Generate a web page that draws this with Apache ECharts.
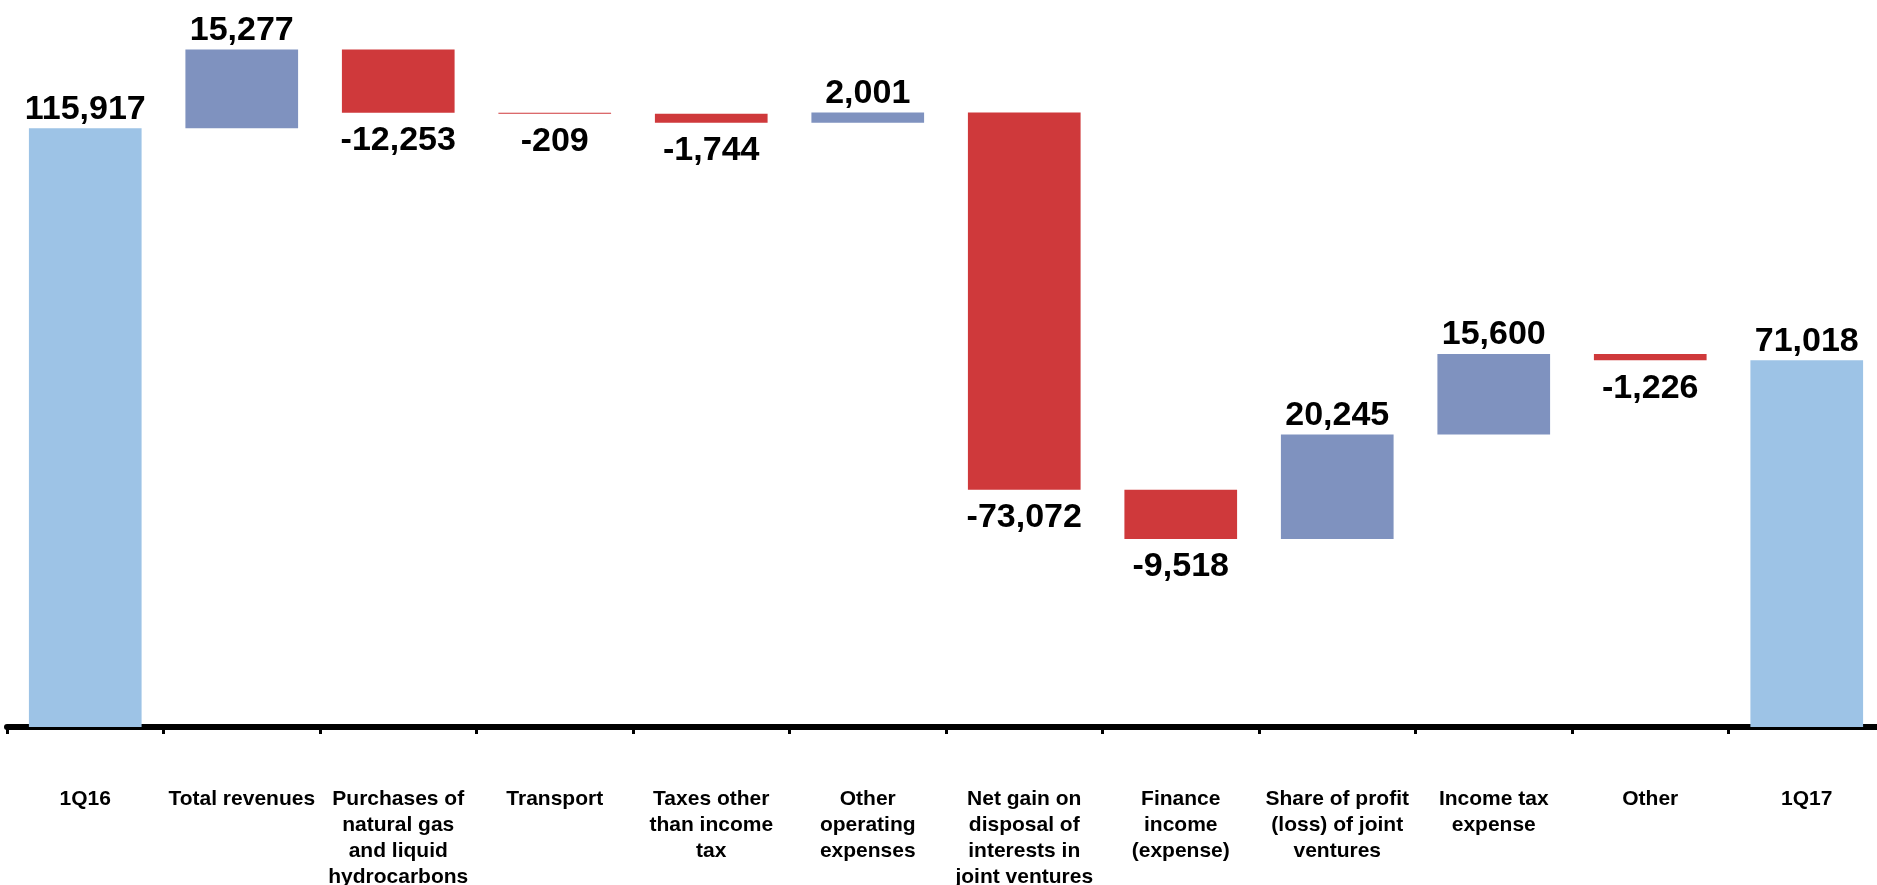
<!DOCTYPE html>
<html style="width:100%;height:100%">
<head>
    <meta charset="UTF-8">
    <title>Waterfall 1Q16 - 1Q17</title>
    <script type="text/javascript" src="https://cdn.jsdelivr.net/npm/echarts@6/dist/echarts.min.js"></script>
</head>
<body style="width:100%;height:100%;margin:0;overflow:hidden;background:#fff">
    <div id="chart" style="width:1877px;height:885px"></div>

    <script type="text/javascript">
        var categories = ['1Q16', 'Total revenues', 'Purchases of\nnatural gas\nand liquid\nhydrocarbons', 'Transport',
            'Taxes other\nthan income\ntax', 'Other\noperating\nexpenses', 'Net gain on\ndisposal of\ninterests in\njoint ventures',
            'Finance\nincome\n(expense)', 'Share of profit\n(loss) of joint\nventures', 'Income tax\nexpense', 'Other', '1Q17'];
        var openingTotal = 115917;
        var changes = [15277, -12253, -209, -1744, 2001, -73072, -9518, 20245, 15600, -1226];
        var closingTotal = 71018;

        function fmt(v) {
            var s = String(Math.abs(v)).replace(/\B(?=(\d{3})+(?!\d))/g, ',');
            return (v < 0 ? '-' : '') + s;
        }

        // build the invisible base + visible pieces
        var base = [0], totals = [openingTotal], ups = ['-'], downs = ['-'];
        var level = openingTotal;
        changes.forEach(function (c) {
            if (c >= 0) {
                base.push(level);
                ups.push(c);
                downs.push('-');
            } else {
                base.push(level + c);
                ups.push('-');
                downs.push(-c);
            }
            totals.push('-');
            level += c;
        });
        base.push(0);
        totals.push(closingTotal);
        ups.push('-');
        downs.push('-');

        var labelFont = {
            fontFamily: 'Liberation Sans, Arial, sans-serif',
            fontWeight: 'bold',
            fontSize: 34,
            color: '#000'
        };

        var myChart = echarts.init(document.getElementById('chart'));
        var option = {
            animation: false,
            grid: {
                left: 7,
                right: -8,
                top: 4,
                bottom: 158,
                outerBoundsMode: 'none'
            },
            xAxis: {
                type: 'category',
                data: categories,
                offset: 3,
                axisLine: { lineStyle: { color: '#000', width: 6 } },
                axisTick: { show: true, length: 7, interval: 0, lineStyle: { color: '#000', width: 3 } },
                axisLabel: {
                    interval: 0,
                    margin: 56,
                    color: '#000',
                    fontFamily: 'Liberation Sans, Arial, sans-serif',
                    fontWeight: 'bold',
                    fontSize: 21,
                    lineHeight: 26,
                    verticalAlign: 'top'
                }
            },
            yAxis: {
                type: 'value',
                min: 0,
                max: 140000,
                show: false,
                splitLine: { show: false }
            },
            series: [{
                type: 'bar',
                stack: 'wf',
                data: base,
                silent: true,
                barWidth: '72%',
                itemStyle: { color: 'transparent' }
            }, {
                type: 'bar',
                stack: 'wf',
                data: totals,
                itemStyle: { color: '#9DC3E6' },
                label: Object.assign({
                    show: true,
                    position: 'top',
                    distance: 2,
                    formatter: function (p) { return fmt(p.value); }
                }, labelFont)
            }, {
                type: 'bar',
                stack: 'wf',
                data: ups,
                itemStyle: { color: '#7F92BF' },
                label: Object.assign({
                    show: true,
                    position: 'top',
                    distance: 2,
                    formatter: function (p) { return fmt(p.value); }
                }, labelFont)
            }, {
                type: 'bar',
                stack: 'wf',
                data: downs,
                itemStyle: { color: '#CF393B' },
                label: Object.assign({
                    show: true,
                    position: 'bottom',
                    distance: 11,
                    formatter: function (p) { return fmt(-p.value); }
                }, labelFont)
            }]
        };

        myChart.setOption(option);
    </script>
</body>
</html>
